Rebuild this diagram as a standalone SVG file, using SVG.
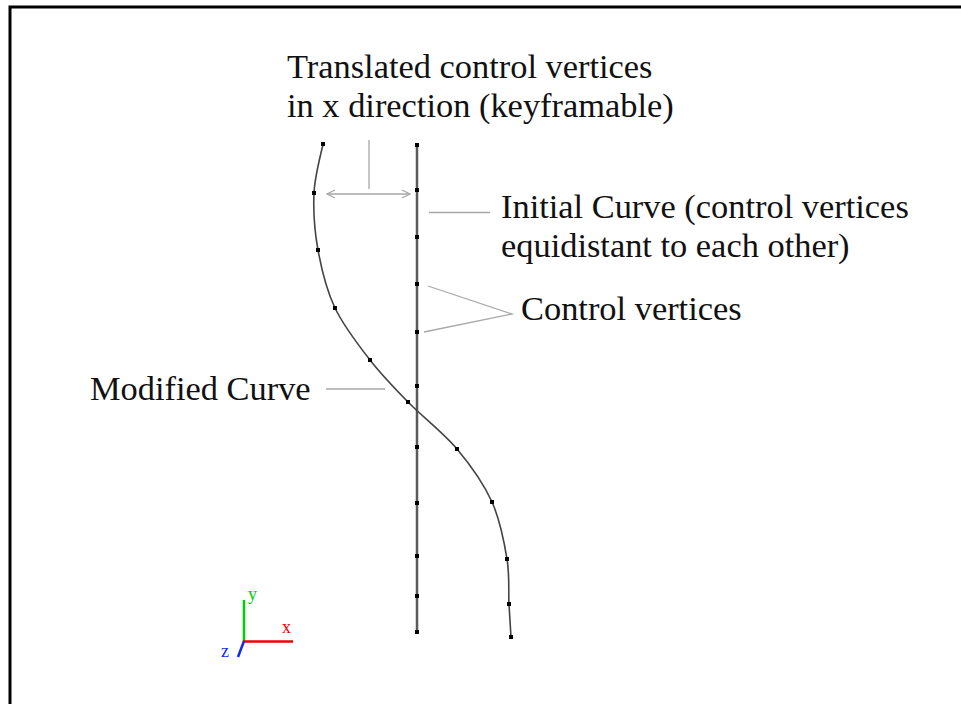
<svg xmlns="http://www.w3.org/2000/svg" width="961" height="704" viewBox="0 0 961 704">
<style>
.lbl{font-family:"Liberation Serif","Times New Roman",serif;font-size:34.4px;fill:#111}
.lead{stroke:#a8a8a8;stroke-width:1.3;fill:none}
.cv{fill:#000}
.ax{font-family:"Liberation Serif",serif;font-size:18px}
</style>
<defs>
<marker id="chev" viewBox="0 0 10 10" refX="9" refY="5" markerWidth="10" markerHeight="10" markerUnits="userSpaceOnUse" orient="auto-start-reverse">
<path d="M1,1 L9,5 L1,9" fill="none" stroke="#a8a8a8" stroke-width="1.3"/>
</marker>
<rect id="v" x="-2" y="-2" width="4" height="4"/>
</defs>
<rect x="10" y="7" width="1000" height="800" fill="#fff" stroke="#000" stroke-width="3"/>

<g id="initial-curve">
<line x1="417" y1="145" x2="417" y2="632" stroke="#5a5a5a" stroke-width="2.5"/>
<g class="cv">
<use href="#v" x="417" y="145"/><use href="#v" x="417" y="190"/><use href="#v" x="417" y="237"/>
<use href="#v" x="417" y="284"/><use href="#v" x="417" y="332"/><use href="#v" x="417" y="386"/>
<use href="#v" x="417" y="447"/><use href="#v" x="417" y="503"/><use href="#v" x="417" y="556"/>
<use href="#v" x="417" y="596"/><use href="#v" x="417" y="632"/>
</g>
</g>

<g id="modified-curve">
<path d="M323,144 C321.5,152.2 314.8,175.3 314,193 C313.2,210.7 314.5,230.8 318,250 C321.5,269.2 326.3,289.7 335,308 C343.7,326.3 357.8,344.3 370,360 C382.2,375.7 393.5,387.2 408,402 C422.5,416.8 443,432.3 457,449 C471,465.7 483.7,483.7 492,502 C500.3,520.3 504.2,542 507,559 C509.8,576 508.3,591 509,604 C509.7,617 510.7,631.5 511,637" fill="none" stroke="#444" stroke-width="1.6"/>
<g class="cv">
<use href="#v" x="323" y="144"/><use href="#v" x="314" y="193"/><use href="#v" x="318" y="250"/>
<use href="#v" x="335" y="308"/><use href="#v" x="370" y="360"/><use href="#v" x="408" y="402"/>
<use href="#v" x="457" y="449"/><use href="#v" x="492" y="502"/><use href="#v" x="507" y="559"/>
<use href="#v" x="509" y="604"/><use href="#v" x="511" y="637"/>
</g>
</g>

<g id="connectors">
<line class="lead" x1="369" y1="140" x2="369" y2="189"/>
<line class="lead" x1="327" y1="194" x2="410" y2="194" marker-start="url(#chev)" marker-end="url(#chev)"/>
<line class="lead" x1="429" y1="212.5" x2="490" y2="212.5"/>
<polyline class="lead" points="428,286 512,314 424,332"/>
<line class="lead" x1="326" y1="389" x2="385" y2="389"/>
</g>

<g id="label-translated">
<text class="lbl" x="287" y="78">Translated control vertices</text>
<text class="lbl" x="287" y="117">in x direction (keyframable)</text>
</g>
<g id="label-initial">
<text class="lbl" x="501" y="218">Initial Curve (control vertices</text>
<text class="lbl" x="501" y="257">equidistant to each other)</text>
</g>
<g id="label-control">
<text class="lbl" x="521" y="320">Control vertices</text>
</g>
<g id="label-modified">
<text class="lbl" x="90" y="400">Modified Curve</text>
</g>

<g id="axes">
<line x1="244" y1="600" x2="244" y2="642" stroke="#00d000" stroke-width="2.5"/>
<line x1="243" y1="641.5" x2="293" y2="641.5" stroke="#ee0000" stroke-width="2.5"/>
<line x1="244" y1="641" x2="238" y2="657" stroke="#1030e0" stroke-width="2.5"/>
<text class="ax" x="248" y="600" fill="#00d000">y</text>
<text class="ax" x="282" y="633" fill="#ee0000">x</text>
<text class="ax" x="221" y="657" fill="#1030e0">z</text>
</g>
</svg>
